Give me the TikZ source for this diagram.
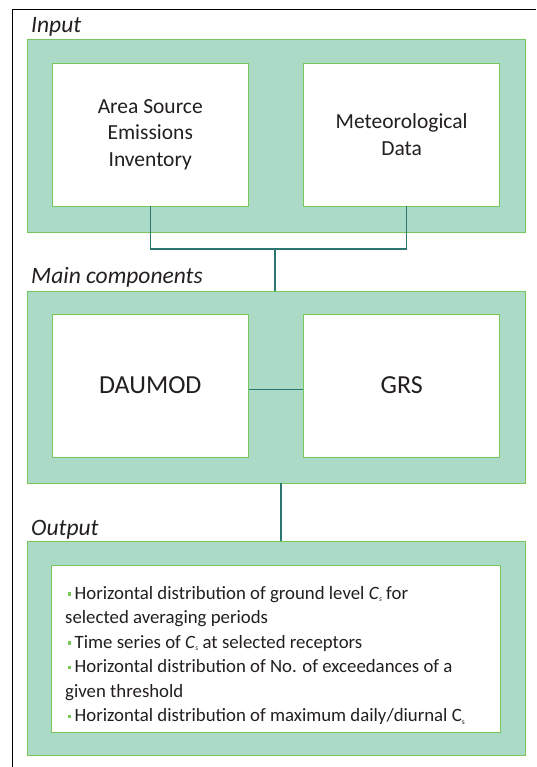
\documentclass[tikz,border=0pt]{standalone}
\usepackage{fontspec}
\setmainfont{Carlito}
\usepackage{xcolor}
\usetikzlibrary{positioning,calc}

\definecolor{panelfill}{HTML}{ABDBC7}
\definecolor{panelline}{HTML}{77C85A}
\definecolor{linkteal}{HTML}{2B7670}
\definecolor{inkgray}{HTML}{231F20}

% concentration symbol, italic and upright
\newcommand{\Csit}{\textit{C}\raisebox{-2.5pt}{\fontsize{7.5}{7.5}\selectfont\itshape s}}
\newcommand{\Csup}{C\raisebox{-2.5pt}{\fontsize{7.5}{7.5}\selectfont s}}
\newcommand{\itemmark}{\hspace*{2.5pt}\textcolor{panelline}{\rule[3.5pt]{3.5pt}{3.5pt}}\hspace{3.5pt}}

\begin{document}
\begin{tikzpicture}[
    x=1pt, y=-1pt,
    panel/.style={rectangle, draw=panelline, fill=panelfill, line width=0.9pt,
      minimum width=498pt, inner sep=0pt},
    compbox/.style={rectangle, draw=panelline, fill=white, line width=0.9pt,
      minimum width=196.5pt, minimum height=143pt, inner sep=0pt, align=center,
      text=inkgray},
    grouplabel/.style={anchor=base west, inner sep=0pt, text=inkgray,
      font=\fontsize{23.5}{28}\selectfont\itshape},
    link/.style={draw=linkteal, line width=1.3pt},
  ]
  \useasboundingbox (0,0) rectangle (536,767);

  % frame
  \draw[line width=0.8pt] (12.5,767) -- (12.5,9.5) -- (536,9.5);

  % Input
  \node[grouplabel] (inlabel) at (31,33) {Input};
  \node[panel, minimum height=193pt] (inpanel) at (276,135.5) {};
  \node[compbox, font=\fontsize{21.5}{26.5}\selectfont] (emis) at (150.25,134.5)
    {Area Source\\Emissions\\Inventory};
  \node[compbox, font=\fontsize{21.5}{26.5}\selectfont, right=54pt of emis] (meteo)
    {Meteorological\\Data};

  % Main components
  \node[grouplabel] (mainlabel) at (31,283) {Main components};
  \node[panel, minimum height=192pt] (mainpanel) at (276,387) {};
  \node[compbox, font=\fontsize{26}{31}\selectfont] (daumod) at (150.25,385.5) {DAUMOD};
  \node[compbox, font=\fontsize{26}{31}\selectfont, right=54pt of daumod] (grs) {GRS};

  % Output
  \node[grouplabel] (outlabel) at (31,535) {Output};
  \node[panel, minimum height=214pt] (outpanel) at (276,648) {};
  \node[compbox, minimum width=449pt, minimum height=167pt] (outbox) at (275.5,648.5) {};
  \node[anchor=base west, inner sep=0pt, align=left, text=inkgray,
    font=\fontsize{18.8}{24.5}\selectfont] (outlist) at (65,721.5)
    {\itemmark Horizontal distribution of ground level \Csit{} for\\
     selected averaging periods\\
     \itemmark Time series of \Csit{} at selected receptors\\
     \itemmark Horizontal distribution of No. of exceedances of a\\
     given threshold\\
     \itemmark Horizontal distribution of maximum daily/diurnal \Csup};

  % Links
  \coordinate (joint) at (275,249);
  \draw[link] (emis.south) |- (joint) -| ($(meteo.south)+(5,0)$);
  \draw[link] (joint) -- (joint |- mainpanel.north);
  \draw[link] ([yshift=-4pt]daumod.east) -- ([yshift=-4pt]grs.west);
  \draw[link] ([xshift=5pt]mainpanel.south) -- ([xshift=5pt]outpanel.north);
\end{tikzpicture}
\end{document}
